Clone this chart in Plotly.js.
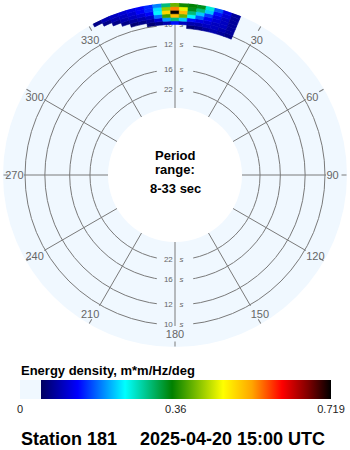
<!DOCTYPE html>
<html>
<head>
<meta charset="utf-8">
<script src="https://cdn.plot.ly/plotly-3.0.1.min.js"></script>
<style>html,body{margin:0;padding:0;background:#fff;}#chart{width:350px;height:450px;}</style>
</head>
<body>
<div id="chart"></div>
<script>
// ---- data ----
const periods = [10, 12, 16, 22];                       // ring labels (s)
const angleTicks = [0, 30, 60, 90, 120, 150, 180, 210, 240, 270, 300, 330];
const angleLabels = ['', '30', '60', '90', '120', '150', '180', '210', '240', '270', '300', '330'];
const freqs = [0.099, 0.102, 0.105, 0.108, 0.111, 0.114, 0.117];   // bin centres, Hz
const dirs = [-27, -24, -21, -18, -15, -12, -9, -6, -3, 0, 3, 6, 9, 12, 15, 18, 21]; // bin centres, deg
// energy density, rows = freqs, cols = dirs
const energy = [
  [0, 0, 0, 0, 0, 0, 0, 0, 0, 0, 0, 0.06, 0.07, 0.08, 0.09, 0.08, 0.07],
  [0, 0, 0, 0, 0, 0, 0.06, 0.07, 0.09, 0.14, 0.10, 0.09, 0.09, 0.10, 0.10, 0.09, 0.08],
  [0, 0, 0, 0, 0.06, 0.07, 0.08, 0.11, 0.20, 0.30, 0.22, 0.14, 0.12, 0.11, 0.10, 0.10, 0.08],
  [0, 0, 0, 0.07, 0.08, 0.09, 0.10, 0.18, 0.38, 0.52, 0.40, 0.24, 0.17, 0.13, 0.11, 0.10, 0.08],
  [0, 0, 0.07, 0.09, 0.10, 0.11, 0.13, 0.24, 0.50, 0.719, 0.52, 0.30, 0.22, 0.16, 0.12, 0.10, 0.08],
  [0, 0.07, 0.09, 0.10, 0.11, 0.13, 0.15, 0.23, 0.42, 0.55, 0.46, 0.34, 0.30, 0.22, 0.14, 0.11, 0.08],
  [0.07, 0.09, 0.10, 0.11, 0.12, 0.13, 0.15, 0.19, 0.30, 0.40, 0.36, 0.35, 0.34, 0.26, 0.17, 0.12, 0.08]
];
const emax = 0.719;
const cbTicks = [0, 0.36, 0.719];
const cbLabels = ['0', '0.36', '0.719'];

// ---- geometry / styles ----
const W = 350, H = 450, CX = 175, CY = 175;
const R_OUT = 172, R_GRID = 151, R_HOLE = 67;
const F_IN = 1 / 33, F_OUT = 0.1185;
const pxPerHz = (R_OUT - R_HOLE) / (F_OUT - F_IN);
const F_GRID = F_IN + (R_GRID - R_HOLE) / pxPerHz;
const dF = 0.003, dTheta = 3;
const BG = '#f0f8ff', GRID = '#7a7a7a', LBL = '#666666';
const FONT = 'Liberation Sans, Arial, sans-serif';

function dom(r) {
  return {
    x: [(CX - r) / W, (CX + r) / W],
    y: [(H - CY - r) / H, (H - CY + r) / H]
  };
}

const colorscale = [
  [0, BG], [0.0675, BG], [0.0675, '#000060'], [0.186, '#0000ff'], [0.338, '#00ffff'],
  [0.489, '#008000'], [0.653, '#ffff00'], [0.746, '#ffa500'], [0.842, '#ff0000'],
  [0.926, '#800000'], [1, '#000000']
];

// flatten spectrum into bars
const bTheta = [], bBase = [], bR = [], bC = [];
freqs.forEach((f, i) => {
  dirs.forEach((d, j) => {
    const v = energy[i][j];
    if (v > 0) {
      bTheta.push(d); bBase.push(f - dF / 2); bR.push(dF); bC.push(v);
    }
  });
});

const ringF = periods.map(p => 1 / p);
const ringR = ringF.concat(ringF);
const ringT = periods.map(() => 0).concat(periods.map(() => 180));
const ringTxt = periods.map(String).concat(periods.map(String));

const traces = [
  { // masks behind ring labels (gaps in the rings)
    type: 'scatterpolar', subplot: 'polar', mode: 'markers', r: ringR, theta: ringT,
    marker: { symbol: 'line-ew', size: 26, color: BG, line: { width: 8, color: BG } },
    hoverinfo: 'skip', cliponaxis: false
  },
  {
    type: 'scatterpolar', subplot: 'polar2', mode: 'text', r: ringR, theta: ringT,
    text: ringTxt.map(t => t + '\u00a0'), textposition: 'middle left',
    textfont: { family: FONT, size: 8, color: LBL }, hoverinfo: 'skip', cliponaxis: false
  },
  {
    type: 'scatterpolar', subplot: 'polar2', mode: 'text', r: ringR, theta: ringT,
    text: ringTxt.map(() => '\u00a0\u00a0<i>s</i>'), textposition: 'middle right',
    textfont: { family: FONT, size: 8, color: LBL }, hoverinfo: 'skip', cliponaxis: false
  },
  {
    type: 'barpolar', subplot: 'polar3', theta: bTheta, base: bBase, r: bR, width: dTheta,
    marker: {
      color: bC, colorscale: colorscale, cmin: 0, cmax: emax,
      line: { width: 0.6, color: bC, colorscale: colorscale, cmin: 0, cmax: emax },
      showscale: true,
      colorbar: {
        orientation: 'h', thickness: 19, thicknessmode: 'pixels', len: 311, lenmode: 'pixels',
        x: 20 / W, xanchor: 'left', xref: 'paper', y: 1 - 380 / H, yanchor: 'top', yref: 'paper',
        xpad: 0, ypad: 0, outlinewidth: 0, ticks: '',
        tickmode: 'array', tickvals: cbTicks, ticktext: cbLabels,
        tickfont: { family: FONT, size: 11, color: '#222' }
      }
    },
    hoverinfo: 'skip'
  }
];

const d1 = dom(R_OUT), d2 = dom(R_GRID);
const bold = (size) => ({ family: FONT, size: size, color: '#000', weight: 700 });
const note = (text, xpx, ypx, size, xanchor) => ({
  text: text, x: xpx / W, y: 1 - ypx / H, xref: 'paper', yref: 'paper',
  xanchor: xanchor, yanchor: 'middle', showarrow: false, font: bold(size)
});
const layout = {
  width: W, height: H, margin: { l: 0, r: 0, t: 0, b: 0, autoexpand: false },
  paper_bgcolor: '#fff', showlegend: false,
  polar: {
    domain: d1, hole: R_HOLE / R_OUT, bgcolor: BG,
    radialaxis: { range: [F_IN, F_OUT], tickmode: 'array', tickvals: ringF, showgrid: true,
                  gridcolor: GRID, gridwidth: 1, showline: false, showticklabels: false, ticks: '' },
    angularaxis: { direction: 'clockwise', rotation: 90, showgrid: false, showline: false,
                   showticklabels: false, ticks: 'inside', ticklen: 5, tickcolor: GRID, tickwidth: 1,
                   tickmode: 'array', tickvals: angleTicks }
  },
  polar2: {
    domain: d2, hole: R_HOLE / R_GRID, bgcolor: 'rgba(0,0,0,0)',
    radialaxis: { range: [F_IN, F_GRID], visible: false },
    angularaxis: { direction: 'clockwise', rotation: 90, showgrid: true, gridcolor: GRID, gridwidth: 1,
                   showline: false, ticks: '', tickmode: 'array', tickvals: angleTicks, ticktext: angleLabels,
                   tickfont: { family: FONT, size: 11, color: LBL } }
  },
  polar3: {
    domain: d1, hole: R_HOLE / R_OUT, bgcolor: 'rgba(0,0,0,0)', barmode: 'overlay',
    radialaxis: { range: [F_IN, F_OUT], visible: false },
    angularaxis: { direction: 'clockwise', rotation: 90, visible: false }
  },
  annotations: [
    note('Period', CX, 155, 13, 'center'),
    note('range:', CX, 169, 13, 'center'),
    note('8-33 sec', CX, 189, 13, 'center'),
    note('Energy density, m*m/Hz/deg', 19, 370, 13, 'left'),
    note('Station 181', 19, 439, 18, 'left'),
    note('2025-04-20 15:00 UTC', 138, 439, 18, 'left')
  ]
};

Plotly.newPlot('chart', traces, layout, { staticPlot: true });
</script>
</body>
</html>
